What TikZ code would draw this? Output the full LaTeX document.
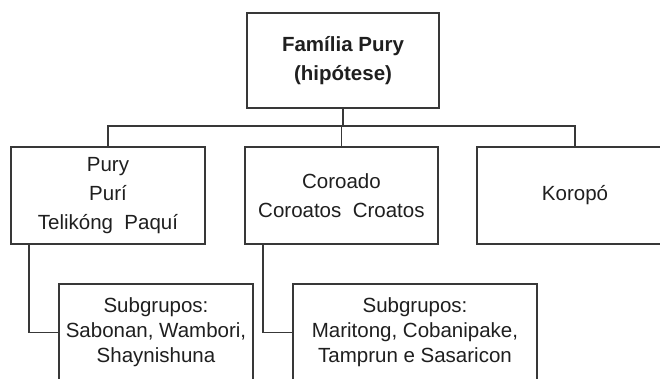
\documentclass[tikz,border=0pt]{standalone}
\usepackage{fontspec}
\setmainfont{Liberation Sans}
\begin{document}
\begin{tikzpicture}[x=1pt,y=-1pt,
  box/.style={draw=black!78,line width=1.7pt,rectangle,inner sep=0pt,align=center,text=black!88,
    font=\fontsize{20.5}{29}\selectfont},
  subbox/.style={box,font=\fontsize{20.5}{25}\selectfont},
  conn/.style={draw=black!78,line width=1.7pt}]
\useasboundingbox[fill=white] (0,0) rectangle (660,379);
\node[box,minimum width=192.5pt,minimum height=95pt,font=\bfseries\fontsize{20.5}{29}\selectfont] (top) at (343,60.5) {Família Pury\\(hipótese)};
\node[box,minimum width=194pt,minimum height=97pt] (L) at (108,195.5) {Pury\\Purí\\Telikóng\ \ Paquí};
\node[box,minimum width=192.7pt,minimum height=97pt] (M) at (341.4,195.5) {Coroado\\Coroatos\ \ Croatos};
\node[box,minimum width=196pt,minimum height=97pt] (R) at (575,195.5) {Koropó};
\node[subbox,minimum width=194pt,minimum height=97pt] (LS) at (156,332.5) {Subgrupos:\\Sabonan, Wambori,\\Shaynishuna};
\node[subbox,minimum width=244pt,minimum height=97pt] (MS) at (415,332.5) {Subgrupos:\\Maritong, Cobanipake,\\Tamprun e Sasaricon};
\coordinate (bus) at (342,126);
\draw[conn] (top.south) -- (top.south |- bus);
\draw[conn] (L.north) -- (L.north |- bus) -| (R.north);
\draw[conn] (M.north) -- (M.north |- bus);
\draw[conn] ([xshift=19pt]L.south west) |- (LS.west);
\draw[conn] ([xshift=19pt]M.south west) |- (MS.west);
\end{tikzpicture}
\end{document}
